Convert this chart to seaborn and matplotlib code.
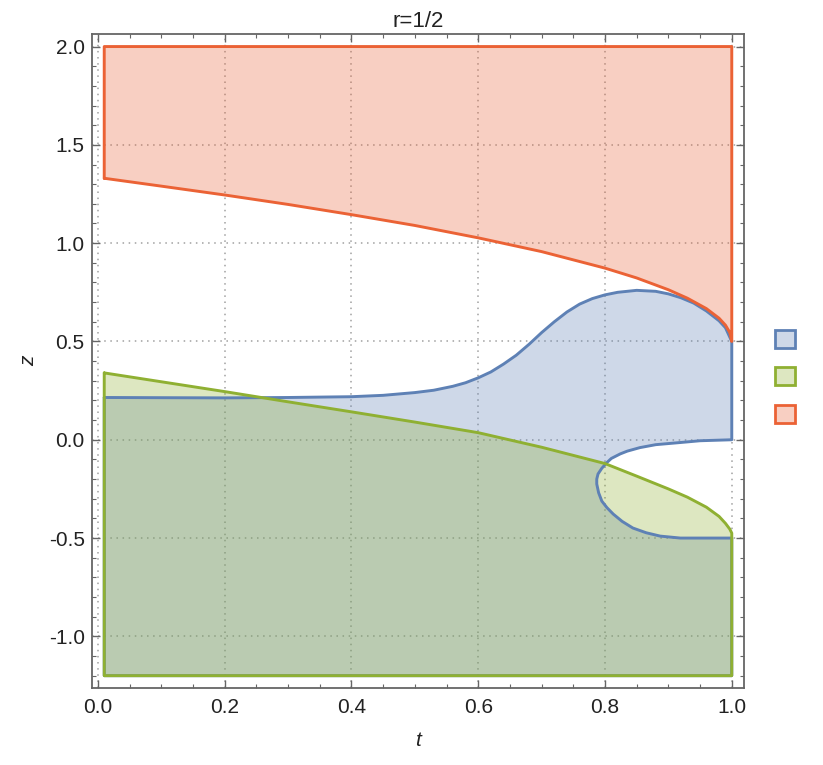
import matplotlib
matplotlib.use('Agg')
import matplotlib.pyplot as plt
import matplotlib.patches as mpatches
import seaborn as sns
import numpy as np

sns.set_style('ticks')
plt.rcParams['font.family'] = ['Liberation Sans', 'DejaVu Sans']

# 区域的边界
t_min, t_max = 0.01, 1.0
z_min, z_max = -1.2, 2.0

# 蓝色区域上边界
blue_t = [0.01, 0.1, 0.2, 0.3, 0.4, 0.45, 0.5, 0.53, 0.56, 0.58, 0.60, 0.62, 0.64,
          0.66, 0.68, 0.70, 0.72, 0.74, 0.76, 0.78, 0.80, 0.82, 0.85, 0.88, 0.90,
          0.92, 0.94, 0.96, 0.98, 0.99, 1.0]
blue_z = [0.215, 0.214, 0.213, 0.215, 0.219, 0.226, 0.240, 0.252, 0.272, 0.290, 0.315,
          0.345, 0.385, 0.43, 0.485, 0.545, 0.60, 0.65, 0.69, 0.718, 0.737, 0.75,
          0.76, 0.755, 0.742, 0.722, 0.695, 0.655, 0.605, 0.57, 0.5]

# 蓝色区域右侧的缺口
hole_t = [1.0, 0.95, 0.919, 0.88, 0.855, 0.835, 0.824, 0.81, 0.803, 0.795, 0.789,
          0.787, 0.787, 0.79, 0.795, 0.803, 0.813, 0.827, 0.844, 0.865, 0.887,
          0.919, 0.96, 1.0]
hole_z = [0.0, -0.005, -0.014, -0.025, -0.04, -0.058, -0.072, -0.095, -0.116, -0.145,
          -0.174, -0.2, -0.225, -0.27, -0.312, -0.345, -0.378, -0.415, -0.449,
          -0.473, -0.49, -0.5, -0.5, -0.5]

# 绿色区域上边界
green_t = [0.01, 0.1, 0.2, 0.3, 0.4, 0.5, 0.6, 0.7, 0.8, 0.85, 0.9, 0.93, 0.96,
           0.98, 0.99, 0.997, 1.0]
green_z = [0.34, 0.295, 0.245, 0.193, 0.142, 0.09, 0.036, -0.038, -0.121, -0.185,
           -0.25, -0.292, -0.343, -0.39, -0.425, -0.455, -0.475]

# 红色区域下边界
red_t = [0.01, 0.1, 0.2, 0.3, 0.4, 0.5, 0.6, 0.7, 0.8, 0.85, 0.9, 0.93, 0.96,
         0.98, 0.99, 0.997, 1.0]
red_z = [1.33, 1.29, 1.245, 1.197, 1.145, 1.09, 1.027, 0.957, 0.873, 0.823, 0.763,
         0.72, 0.667, 0.618, 0.583, 0.545, 0.5]

colors = {'blue': '#5E81B5', 'green': '#8FB032', 'red': '#EB6235'}

# 组合多边形
blue_px = blue_t + hole_t + [t_max, t_min, t_min]
blue_py = blue_z + hole_z + [z_min, z_min, blue_z[0]]
green_px = green_t + [t_max, t_min, t_min]
green_py = green_z + [z_min, z_min, green_z[0]]
red_px = red_t + [t_max, t_min, t_min]
red_py = red_z + [z_max, z_max, red_z[0]]

fig = plt.figure(figsize=(8.23, 7.65), dpi=100)
ax = fig.add_axes([0.1114, 0.1003, 0.793, 0.8553])

polys = [('blue', blue_px, blue_py), ('green', green_px, green_py), ('red', red_px, red_py)]
# 先画填充，再画边界线
for i, (name, px, py) in enumerate(polys):
    ax.fill(px, py, color=colors[name], alpha=0.3, lw=0, zorder=2 + i)
for i, (name, px, py) in enumerate(polys):
    sns.lineplot(x=px, y=py, sort=False, estimator=None, color=colors[name], lw=2.1,
                 ax=ax, zorder=6 + i)

ax.set_xlim(-0.0098, 1.0198)
ax.set_ylim(-1.264, 2.064)

ax.set_xticks(np.arange(0, 1.01, 0.2))
ax.set_xticklabels(['0.0', '0.2', '0.4', '0.6', '0.8', '1.0'])
ax.set_xticks(np.arange(0, 1.01, 0.05), minor=True)
ax.set_yticks(np.arange(-1.0, 2.01, 0.5))
ax.set_yticklabels(['-1.0', '-0.5', '0.0', '0.5', '1.0', '1.5', '2.0'])
ax.set_yticks(np.arange(-1.2, 2.01, 0.1), minor=True)

frame_c = '#666666'
for s in ax.spines.values():
    s.set_color(frame_c)
    s.set_linewidth(1.3)
ax.tick_params(which='both', direction='in', top=True, right=True, color=frame_c,
               labelsize=15, labelcolor='#222222')
ax.tick_params(which='major', length=5.5, width=1)
ax.tick_params(which='minor', length=3, width=0.8)
ax.tick_params(axis='x', pad=7)
ax.tick_params(axis='y', pad=5)

ax.grid(True, which='major', color='#a0a0a0', linestyle=(0, (1, 3)), lw=1.1, zorder=1)

ax.set_title('r=1/2', fontsize=16, pad=5, color='#222222')
ax.set_xlabel('t', fontsize=15, style='italic', labelpad=10, color='#222222')
ax.set_ylabel('z', fontsize=15, style='italic', labelpad=8, color='#222222')

handles = [mpatches.Patch(facecolor=(*matplotlib.colors.to_rgb(colors[n]), 0.3),
                          edgecolor=colors[n], lw=2) for n in ['blue', 'green', 'red']]
ax.legend(handles, ['', '', ''], loc='center left', bbox_to_anchor=(1.035, 0.475),
          frameon=False, fontsize=15, handlelength=0.95, handleheight=0.95,
          labelspacing=0.85, handletextpad=0, borderaxespad=0)

plt.savefig('out.png', dpi=100)
plt.close()
